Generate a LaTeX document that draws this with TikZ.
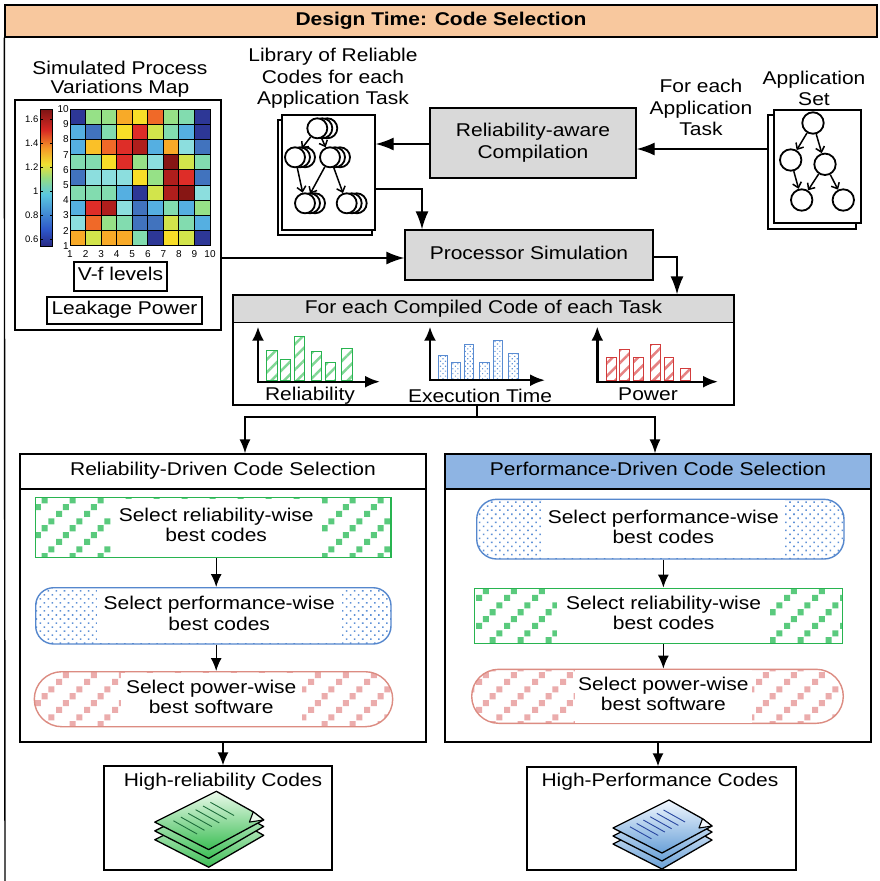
\documentclass[tikz,border=0pt]{standalone}
\usepackage{fontspec}
\usepackage{graphicx}
\setmainfont{Liberation Sans}
\usetikzlibrary{arrows.meta,patterns,patterns.meta,shapes.misc}

% label text: 21pt Arial-like, slightly compressed vertically
\newcommand{\sq}[2][24.5pt]{\scalebox{1}[0.88]{\fontsize{21pt}{#1}\selectfont\begin{tabular}{@{}c@{}}#2\end{tabular}}}

% diagonal stripes made of small squares
\pgfdeclarepatternformonly{sqstripe}{\pgfqpoint{0pt}{0pt}}{\pgfqpoint{28pt}{28pt}}{\pgfqpoint{28pt}{28pt}}{%
  \pgfpathrectangle{\pgfqpoint{0pt}{0pt}}{\pgfqpoint{6.3pt}{6.3pt}}%
  \pgfpathrectangle{\pgfqpoint{7pt}{7pt}}{\pgfqpoint{6.3pt}{6.3pt}}%
  \pgfpathrectangle{\pgfqpoint{14pt}{14pt}}{\pgfqpoint{6.3pt}{6.3pt}}%
  \pgfpathrectangle{\pgfqpoint{21pt}{21pt}}{\pgfqpoint{6.3pt}{6.3pt}}%
  \pgfusepath{fill}}

\definecolor{peach}{RGB}{248,200,158}
\definecolor{boxgray}{RGB}{217,217,217}
\definecolor{perfblue}{RGB}{142,180,227}
\definecolor{gline}{RGB}{40,180,80}
\definecolor{gpat}{RGB}{90,202,125}
\definecolor{bline}{RGB}{85,135,205}
\definecolor{bpat}{RGB}{95,145,215}
\definecolor{rline}{RGB}{220,140,130}
\definecolor{rpat}{RGB}{235,172,172}
\definecolor{gbarl}{RGB}{40,180,80}
\definecolor{gbarp}{RGB}{130,215,150}
\definecolor{bbarl}{RGB}{90,140,210}
\definecolor{bbarp}{RGB}{100,150,215}
\definecolor{rbarl}{RGB}{210,60,60}
\definecolor{rbarp}{RGB}{230,130,130}
\definecolor{iconGlight}{RGB}{235,250,235}
\definecolor{iconGdark}{RGB}{60,190,85}
\definecolor{iconGline}{RGB}{30,110,60}
\definecolor{iconBlight}{RGB}{242,248,255}
\definecolor{iconBdark}{RGB}{105,160,215}
\definecolor{iconBline}{RGB}{40,70,160}
% heat map palette
\definecolor{hmDB}{RGB}{45,55,150}
\definecolor{hmMB}{RGB}{65,115,190}
\definecolor{hmSB}{RGB}{85,175,225}
\definecolor{hmLC}{RGB}{140,222,222}
\definecolor{hmMT}{RGB}{130,220,175}
\definecolor{hmLG}{RGB}{150,225,135}
\definecolor{hmYG}{RGB}{210,228,75}
\definecolor{hmYE}{RGB}{248,222,40}
\definecolor{hmYO}{RGB}{250,192,40}
\definecolor{hmOR}{RGB}{248,170,40}
\definecolor{hmORR}{RGB}{240,105,40}
\definecolor{hmRD}{RGB}{222,45,40}
\definecolor{hmDR}{RGB}{175,30,28}
\definecolor{hmMR}{RGB}{135,22,20}
% colour bar stops
\definecolor{cbA}{RGB}{40,40,130}
\definecolor{cbB}{RGB}{45,85,200}
\definecolor{cbC}{RGB}{90,200,225}
\definecolor{cbD}{RGB}{150,220,130}
\definecolor{cbE}{RGB}{240,225,50}
\definecolor{cbF}{RGB}{245,150,40}
\definecolor{cbG}{RGB}{215,40,35}
\definecolor{cbH}{RGB}{125,20,20}

\tikzset{
  lw/.style={line width=1.4pt},
  box/.style={draw, lw, inner sep=0pt, fill=white},
  graybox/.style={box, fill=boxgray},
  page/.style={box},
  plain/.style={inner sep=0pt},
  arr/.style={lw, -{Latex[length=18pt,width=13pt]}},
  marr/.style={lw, -{Latex[length=14pt,width=11pt]}},
  sarr/.style={lw, -{Latex[length=13pt,width=11pt]}},
  axarr/.style={line width=2.4pt, {Latex[length=14pt,width=12pt]}-{Latex[length=15pt,width=12pt]}},
  vnode/.style={circle, draw, fill=white, line width=1.8pt, inner sep=0pt},
  varr/.style={line width=1.5pt, -{Straight Barb[length=5pt,width=9pt]}},
  whitetext/.style={fill=white, inner sep=0pt},
  greensel/.style={draw=gline, line width=1.4pt, pattern=sqstripe, pattern color=gpat, inner sep=0pt},
  bluesel/.style={draw=bline, line width=1.4pt, pattern={Dots[angle=45,distance=5.7pt,radius=1.1pt]}, pattern color=bpat, rounded corners=18pt, inner sep=0pt},
  redsel/.style={rounded rectangle, draw=rline, line width=1.4pt, pattern=sqstripe, pattern color=rpat, inner sep=0pt},
  gbar/.style={draw=gbarl, line width=1pt, pattern={Lines[angle=45,distance=9pt,line width=2.5pt]}, pattern color=gbarp},
  bbar/.style={draw=bbarl, line width=1pt, pattern={Dots[angle=45,distance=3.5pt,radius=0.8pt]}, pattern color=bbarp},
  rbar/.style={draw=rbarl, line width=1pt, pattern={Lines[angle=45,distance=9pt,line width=2.5pt]}, pattern color=rbarp},
  small/.style={inner sep=0pt, font=\fontsize{10pt}{12pt}\selectfont},
  pics/docstack/.style n args={3}{code={
    \foreach \dy in {16,8} {
      \draw[line width=1.3pt, top color=#1, bottom color=#2, line join=round]
        (-52,{1+\dy}) -- (4,{-27+\dy}) -- (47,{-3+\dy}) -- (-3,{26+\dy}) -- cycle;
    }
    \draw[line width=1.3pt, top color=#1, bottom color=#2, line join=round]
      (-52,1) -- (4,-27) -- (37.5,-8.3) -- (47,-1) -- (-3,26) -- cycle;
    \draw[line width=1.1pt, fill=#1, line join=round] (37.5,-8.3) -- (47,-1) -- (34,1) -- cycle;
    \foreach \s in {0.22,0.34,0.46,0.58,0.70,0.82} {
      \draw[#3, line width=0.9pt] ({4-56*\s+43*0.16}, {-27+28*\s+24*0.16}) -- ({4-56*\s+43*0.66}, {-27+28*\s+24*0.66});
    }
  }}
}

\begin{document}
\begin{tikzpicture}[x=1pt,y=-1pt]
\useasboundingbox (0,0) rectangle (880,881);

% ---------- title bar and frame ----------
\node[box, fill=peach, minimum width=872pt, minimum height=32pt] (title) at (441,21)
  {\scalebox{1}[0.88]{\fontsize{21pt}{24pt}\selectfont\bfseries Design Time: Code Selection}};
\coordinate (framefoot) at (5,881);
\draw[lw] (title.south west) -- (framefoot);

% ---------- process variation map ----------
\node[plain] (maptitle) at (120,80) {\sq[19.5pt]{Simulated Process\\Variations Map}};
\node[box, minimum width=206pt, minimum height=230pt] (mapbox) at (118,215) {};

\foreach \rowlist [count=\r from 0] in {
  {DB,LG,LG,OR,YE,ORR,LG,MT,DB},
  {SB,MB,MT,YE,RD,YG,MT,SB,DB},
  {SB,YO,ORR,RD,DR,SB,OR,LC,MB},
  {MT,MT,YE,RD,LG,LC,MR,YG,MT},
  {MB,LC,LC,LC,YE,LG,DR,RD,MB},
  {MT,MT,MT,SB,DB,YG,DR,MR,LC},
  {SB,RD,DR,LC,MB,SB,MT,SB,LG},
  {LC,ORR,LG,MT,MB,MB,YG,MT,SB},
  {OR,YG,OR,OR,MT,DB,YE,YG,DB}} {
  \foreach \cc [count=\k from 0] in \rowlist {
    \fill[fill=hm\cc] ({70+\k*15.556},{109+\r*15.19}) rectangle ++(15.556,15.19);
  }
}
\foreach \k in {0,...,9} {
  \draw[line width=0.9pt] ({70+\k*15.556},109) -- ({70+\k*15.556},245.7);
  \draw[line width=0.9pt] (70,{109+\k*15.19}) -- (210,{109+\k*15.19});
}
\foreach \k in {1,...,10} {
  \node[small] (xt\k) at ({70+(\k-1)*15.556},254.5) {\k};
  \node[small, anchor=east] (yt\k) at (69,{245.7-(\k-1)*15.19}) {\k};
}
% colour bar
\shade[bottom color=cbA, top color=cbB] (40.7,246.7) rectangle (52.3,230.2);
\shade[bottom color=cbB, top color=cbC] (40.7,230.2) rectangle (52.3,194.4);
\shade[bottom color=cbC, top color=cbD] (40.7,194.4) rectangle (52.3,177.85);
\shade[bottom color=cbD, top color=cbE] (40.7,177.85) rectangle (52.3,164.1);
\shade[bottom color=cbE, top color=cbF] (40.7,164.1) rectangle (52.3,147.6);
\shade[bottom color=cbF, top color=cbG] (40.7,147.6) rectangle (52.3,129.7);
\shade[bottom color=cbG, top color=cbH] (40.7,129.7) rectangle (52.3,109);
\draw[line width=0.8pt] (40.7,109) rectangle (52.3,246.7);
\foreach \v/\yy in {0.6/239,0.8/215,1/191,1.2/167,1.4/143,1.6/119} {
  \draw[line width=0.5pt] (40.7,\yy) -- ++(2.5,0) (52.3,\yy) -- ++(-2.5,0);
  \node[inner sep=0pt, anchor=east, font=\fontsize{9.5pt}{11pt}\selectfont] (cb\yy) at (38.5,\yy) {\v};
}
\node[box, minimum width=93pt, minimum height=29pt] (vf) at (120.5,276.5) {\sq{V-f levels}};
\node[box, minimum width=155pt, minimum height=27pt] (leak) at (124.5,310.5) {\sq{Leakage Power}};

% ---------- code library ----------
\node[plain] (libtitle) at (333,79) {\sq{Library of Reliable\\Codes for each\\Application Task}};
\node[page, minimum width=94pt, minimum height=115pt] (libback) at (325,177.5) {};
\node[page, minimum width=93pt, minimum height=115pt] (libpage) at (328.5,172.5) {};
\foreach \nm/\cx/\cy in {t/317.3/128.3, ml/295/157.3, mr/330/157.3, bl/305/203.3, br/346.7/203.3} {
  \node[vnode, minimum size=20pt] (lib\nm c) at (\cx+10,\cy) {};
  \node[vnode, minimum size=20pt] (lib\nm b) at (\cx+5,\cy) {};
  \node[vnode, minimum size=20pt] (lib\nm) at (\cx,\cy) {};
}
\draw[varr] (libt) -- (libml);
\draw[varr] (libt) -- (libmr);
\draw[varr] (libml) -- (libbl);
\draw[varr] (libmr) -- (libbl);
\draw[varr] (libmr) -- (libbr);

% ---------- application set ----------
\node[plain] (apptitle) at (814,91) {\sq[23pt]{Application\\Set}};
\node[plain] (foreachtask) at (701,110) {\sq{For each\\Application\\Task}};
\node[page, minimum width=88pt, minimum height=114pt] (appback) at (812,172) {};
\node[page, minimum width=87pt, minimum height=113pt] (apppage) at (817.5,166.5) {};
\node[vnode, minimum size=21.4pt] (appt) at (813,123) {};
\node[vnode, minimum size=21.4pt] (appml) at (790.7,160) {};
\node[vnode, minimum size=21.4pt] (appmr) at (825,164.3) {};
\node[vnode, minimum size=21.4pt] (appbl) at (801.7,200) {};
\node[vnode, minimum size=21.4pt] (appbr) at (843.3,200) {};
\draw[varr] (appt) -- (appml);
\draw[varr] (appt) -- (appmr);
\draw[varr] (appml) -- (appbl);
\draw[varr] (appmr) -- (appbl);
\draw[varr] (appmr) -- (appbr);

% ---------- compilation and simulation ----------
\node[graybox, minimum width=206pt, minimum height=70pt] (comp) at (533,143) {\sq{Reliability-aware\\Compilation}};
\node[graybox, minimum width=248pt, minimum height=50pt] (proc) at (529,255) {\sq{Processor Simulation}};

\draw[arr] ([yshift=23pt]appback.west) -- ([yshift=-6pt]comp.east);
\draw[arr] ([yshift=-1pt]comp.west) -- ([yshift=28.5pt]libpage.east);
\draw[arr] ([yshift=-16.5pt]libpage.east) -| ([xshift=-107pt]proc.north);
\draw[arr] ([yshift=-43pt]mapbox.east) -- ([yshift=-3pt]proc.west);

% ---------- per-code evaluation ----------
\node[box, minimum width=501pt, minimum height=110pt] (each) at (483.5,350) {};
\node[graybox, minimum width=501pt, minimum height=27.7pt] (eachhead) at (483.5,308.85) {\sq{For each Compiled Code of each Task}};
\draw[arr] ([yshift=-2pt]proc.east) -| ([xshift=193.5pt]each.north);

% bar charts
\foreach \xa/\xb/\yt in {266.7/277.7/350, 280/290/359.3, 294/304/336, 311/321/351.7, 325.3/335/362, 341.3/352/348.3}
  \draw[gbar] (\xa,380.5) rectangle (\xb,\yt);
\foreach \xa/\xb/\yt in {438.3/447.7/355, 451/460/362.3, 464.3/473.3/344, 479.7/489/362.3, 493.7/502.7/340, 508.7/518/353.3}
  \draw[bbar] (\xa,379) rectangle (\xb,\yt);
\foreach \xa/\xb/\yt in {606.7/616.7/357.7, 619.3/629.3/349.3, 633.3/643.3/357.3, 650/660/344.3, 664.3/673.3/357.3, 680.7/690.7/368.3}
  \draw[rbar] (\xa,380.5) rectangle (\xb,\yt);
\draw[axarr] (258,326.7) -- (258,381.7) -- (380,381.7);
\draw[axarr] (430,326.7) -- (430,380.2) -- (545,380.2);
\draw[axarr] (597.3,326.7) -- (597.3,381.7) -- (718,381.7);
\node[plain] (lblrel) at (310,395.7) {\sq{Reliability}};
\node[plain] (lblexe) at (480,397.7) {\sq{Execution Time}};
\node[plain] (lblpow) at (648,395.7) {\sq{Power}};

% ---------- selection flows ----------
\node[box, minimum width=406pt, minimum height=288pt] (reldrv) at (223,598) {};
\node[box, minimum width=406pt, minimum height=35pt] (relhead) at (223,471.5) {\sq{Reliability-Driven Code Selection}};
\node[box, minimum width=426pt, minimum height=288pt] (perfdrv) at (658,598) {};
\node[box, fill=perfblue, minimum width=426pt, minimum height=35pt] (perfhead) at (658,471.5) {\sq{Performance-Driven Code Selection}};

\coordinate (split) at (477,417);
\coordinate (splitL) at (245,417);
\coordinate (splitR) at (655,417);
\draw[marr] (each.south -| split) -- (split) -| (splitL |- relhead.north);
\draw[marr] (each.south -| split) -- (split) -| (splitR |- perfhead.north);

% reliability-driven steps
\node[greensel, minimum width=355.3pt, minimum height=59.6pt] (l1) at (213.35,527.5) {};
\node[whitetext, minimum width=211pt, minimum height=58pt] (l1t) at (216.2,527.5) {\sq[23pt]{Select reliability-wise\\best codes}};
\node[bluesel, minimum width=355.3pt, minimum height=56.3pt] (l2) at (213.35,615.85) {};
\node[whitetext, minimum width=245pt, minimum height=54.5pt] (l2t) at (219.2,615.85) {\sq[23pt]{Select performance-wise\\best codes}};
\node[redsel, minimum width=358.4pt, minimum height=55pt] (l3) at (213.5,699.2) {};
\node[whitetext, minimum width=181pt, minimum height=53.4pt] (l3t) at (211.2,699.2) {\sq[23pt]{Select power-wise\\best software}};
\draw[sarr] (l1.south -| l1t) -- (l2.north -| l1t);
\draw[sarr] (l2.south -| l1t) -- (l3.north -| l1t);

% performance-driven steps
\node[bluesel, rounded corners=20pt, minimum width=367.3pt, minimum height=59.7pt] (r1) at (660.35,529.15) {};
\node[whitetext, minimum width=243.3pt, minimum height=58pt] (r1t) at (663.35,529.15) {\sq[23pt]{Select performance-wise\\best codes}};
\node[greensel, minimum width=368pt, minimum height=55pt] (r2) at (658.3,615.8) {};
\node[whitetext, minimum width=212.7pt, minimum height=53.4pt] (r2t) at (663.65,615.8) {\sq[23pt]{Select reliability-wise\\best codes}};
\node[redsel, minimum width=371.6pt, minimum height=54pt] (r3) at (657.5,696.3) {};
\node[whitetext, minimum width=176.7pt, minimum height=52.4pt] (r3t) at (663.35,696.3) {\sq[23pt]{Select power-wise\\best software}};
\draw[sarr] (r1.south -| r1t) -- (r2.north -| r1t);
\draw[sarr] (r2.south -| r1t) -- (r3.north -| r1t);

% ---------- resulting code sets ----------
\node[box, minimum width=228pt, minimum height=104pt] (out1) at (218,818) {};
\node[box, minimum width=269pt, minimum height=103pt] (out2) at (661.5,818.5) {};
\node[plain] (out1t) at (223,782) {\sq{High-reliability Codes}};
\node[plain] (out2t) at (660,782) {\sq{High-Performance Codes}};
\draw[sarr] (reldrv.south) -- (reldrv.south |- out1.north);
\draw[sarr] (perfdrv.south) -- (perfdrv.south |- out2.north);
\pic[scale=1.1] (icon1) at (212,821) {docstack={iconGlight}{iconGdark}{iconGline}};
\pic (icon2) at (665,827) {docstack={iconBlight}{iconBdark}{iconBline}};

\end{tikzpicture}
\end{document}
